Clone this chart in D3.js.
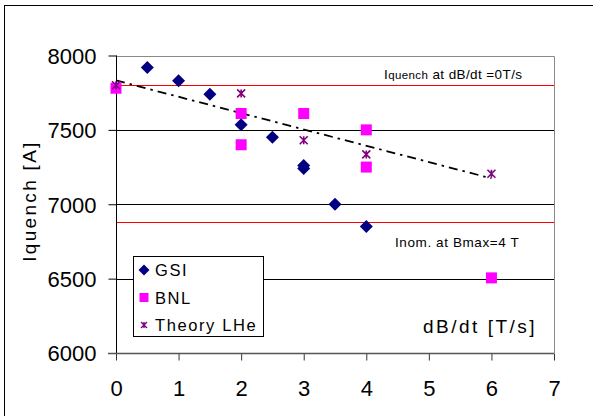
<!DOCTYPE html>
<html>
<head>
<meta charset="utf-8">
<script src="https://cdn.jsdelivr.net/npm/d3@7"></script>
<style>
  html, body { margin: 0; padding: 0; background: #fff; }
  svg { display: block; font-family: "Liberation Sans", Arial, sans-serif; }
</style>
</head>
<body>
<svg id="chart" width="593" height="416"></svg>
<script>
// Quench current vs. ramp rate
const gsiX = [0.5, 1, 1.5, 2, 2.5, 3, 3, 3.5, 4];
const gsiY = [7920, 7830, 7740, 7535, 7450, 7260, 7240, 7000, 6850];

const bnlX = [0, 2, 2, 3, 4, 4, 6];
const bnlY = [7780, 7610, 7400, 7610, 7500, 7250, 6505];

const lheX = [0, 2, 3, 4, 6];
const lheY = [7800, 7745, 7430, 7335, 7205];

const xTicks = [0, 1, 2, 3, 4, 5, 6, 7];
const yTicks = [6000, 6500, 7000, 7500, 8000];

const quenchAtZero = 7800;   // Iquench at dB/dt = 0 T/s
const nominalAt4T = 6882;    // Inom. at Bmax = 4 T

const svg = d3.select("#chart");

// outer chart frame
svg.append("rect")
  .attr("x", 4.5).attr("y", 5.5)
  .attr("width", 620).attr("height", 440)
  .attr("fill", "#fff").attr("stroke", "#000").attr("stroke-width", 1);

const x = d3.scaleLinear().domain([0, 7]).range([116, 554]);
const y = d3.scaleLinear().domain([6000, 8000]).range([353, 55.5]);

// horizontal gridlines
svg.append("g")
  .selectAll("line")
  .data(yTicks.filter(t => t > 6000 && t < 8000))
  .join("line")
  .attr("x1", x(0)).attr("x2", x(7))
  .attr("y1", d => Math.round(y(d)) + 0.5).attr("y2", d => Math.round(y(d)) + 0.5)
  .attr("stroke", "#000").attr("stroke-width", 1);

// plot area border (top and right)
svg.append("path")
  .attr("d", `M${x(0)},${Math.round(y(8000)) + 0.5}H${x(7) + 0.5}V${y(6000)}`)
  .attr("fill", "none").attr("stroke", "#8a8a8a").attr("stroke-width", 1);

// reference levels
svg.append("g")
  .selectAll("line")
  .data([quenchAtZero, nominalAt4T])
  .join("line")
  .attr("x1", x(0)).attr("x2", x(7))
  .attr("y1", d => Math.round(y(d)) + 0.5).attr("y2", d => Math.round(y(d)) + 0.5)
  .attr("stroke", "#ff0000").attr("stroke-width", 1.2);

// y axis
const yAxis = svg.append("g")
  .attr("transform", `translate(${x(0) + 0.5},0)`)
  .call(d3.axisLeft(y).tickValues(yTicks).tickSize(8).tickPadding(12).tickFormat(d3.format("d")));
yAxis.select(".domain").remove();
yAxis.append("line").attr("y1", y(8000)).attr("y2", y(6000) + 7).attr("stroke", "#000");
yAxis.selectAll(".tick line").attr("stroke", "#000");
yAxis.selectAll(".tick text")
  .attr("font-size", 22).attr("fill", "#000")
  .attr("font-family", "Liberation Sans, Arial, sans-serif")
  .attr("dy", "0.36em");

// x axis
const xAxis = svg.append("g")
  .attr("transform", `translate(0,${Math.round(y(6000)) + 0.5})`)
  .call(d3.axisBottom(x).tickValues(xTicks).tickSize(7).tickPadding(20).tickFormat(d3.format("d")));
xAxis.select(".domain").remove();
xAxis.append("line").attr("x1", x(0) - 8).attr("x2", x(7)).attr("stroke", "#555").attr("stroke-width", 1.5);
xAxis.selectAll(".tick line").attr("stroke", "#333");
xAxis.selectAll(".tick text")
  .attr("font-size", 22).attr("fill", "#000")
  .attr("font-family", "Liberation Sans, Arial, sans-serif")
  .attr("dy", "0.71em");

// axis titles
svg.append("text")
  .attr("transform", "translate(36,201) rotate(-90)")
  .attr("text-anchor", "middle")
  .attr("font-size", 19).attr("letter-spacing", 2.3)
  .text("Iquench [A]");

svg.append("text")
  .attr("x", 423).attr("y", 333)
  .attr("font-size", 19).attr("letter-spacing", 2.5)
  .text("dB/dt [T/s]");

// annotations for the reference levels
const t1 = svg.append("text").attr("x", 384).attr("y", 79).attr("font-size", 13.5).attr("letter-spacing", 0.4);
t1.append("tspan").text("I");
t1.append("tspan").attr("font-size", 11.5).text("quench");
t1.append("tspan").text(" at dB/dt =0T/s");

svg.append("text")
  .attr("x", 395).attr("y", 247)
  .attr("font-size", 13.5).attr("letter-spacing", 0.6)
  .text("Inom. at Bmax=4 T");

// trend line of the theory series (least squares fit)
const mx = d3.mean(lheX), my = d3.mean(lheY);
const slope = d3.sum(lheX, (v, i) => (v - mx) * (lheY[i] - my)) / d3.sum(lheX, v => (v - mx) ** 2);
const icpt = my - slope * mx;
const trendX = [d3.min(lheX), d3.max(lheX)];
svg.append("line")
  .attr("x1", x(trendX[0])).attr("y1", y(icpt + slope * trendX[0]))
  .attr("x2", x(trendX[1])).attr("y2", y(icpt + slope * trendX[1]))
  .attr("stroke", "#000").attr("stroke-width", 1.8)
  .attr("stroke-dasharray", "9,5,2.5,5");

// marker shapes
function diamond(s) { return `M0,${-s}L${s},0L0,${s}L${-s},0Z`; }
function star(s) { return `M${-s},${-s}L${s},${s}M${-s},${s}L${s},${-s}M0,${-s}V${s}`; }

const gsi = gsiX.map((v, i) => [v, gsiY[i]]);
const bnl = bnlX.map((v, i) => [v, bnlY[i]]);
const lhe = lheX.map((v, i) => [v, lheY[i]]);

svg.append("g").selectAll("path").data(gsi).join("path")
  .attr("transform", d => `translate(${x(d[0])},${y(d[1])})`)
  .attr("d", diamond(6.5)).attr("fill", "#000080");

svg.append("g").selectAll("rect").data(bnl).join("rect")
  .attr("x", d => x(d[0]) - 5.5).attr("y", d => y(d[1]) - 5.5)
  .attr("width", 11).attr("height", 11).attr("fill", "#ff00ff");

svg.append("g").selectAll("path").data(lhe).join("path")
  .attr("transform", d => `translate(${x(d[0])},${y(d[1])})`)
  .attr("d", star(4)).attr("fill", "none").attr("stroke", "#800080").attr("stroke-width", 1.6);

// legend
const legend = svg.append("g");
legend.append("rect")
  .attr("x", 133.5).attr("y", 256.5).attr("width", 130).attr("height", 80)
  .attr("fill", "#fff").attr("stroke", "#000");
const items = [
  { name: "GSI", kind: "diamond" },
  { name: "BNL", kind: "square" },
  { name: "Theory LHe", kind: "star" }
];
items.forEach((it, i) => {
  const cy = 270 + i * 27.5;
  if (it.kind === "diamond") {
    legend.append("path").attr("transform", `translate(144,${cy})`).attr("d", diamond(5.5)).attr("fill", "#000080");
  } else if (it.kind === "square") {
    legend.append("rect").attr("x", 139.5).attr("y", cy - 4.5).attr("width", 9).attr("height", 9).attr("fill", "#ff00ff");
  } else {
    legend.append("path").attr("transform", `translate(144,${cy})`).attr("d", star(3)).attr("fill", "none").attr("stroke", "#800080").attr("stroke-width", 1.4);
  }
  legend.append("text")
    .attr("x", 155).attr("y", cy + 6)
    .attr("font-size", 16.5).attr("letter-spacing", 1.6)
    .text(it.name);
});
</script>
</body>
</html>
